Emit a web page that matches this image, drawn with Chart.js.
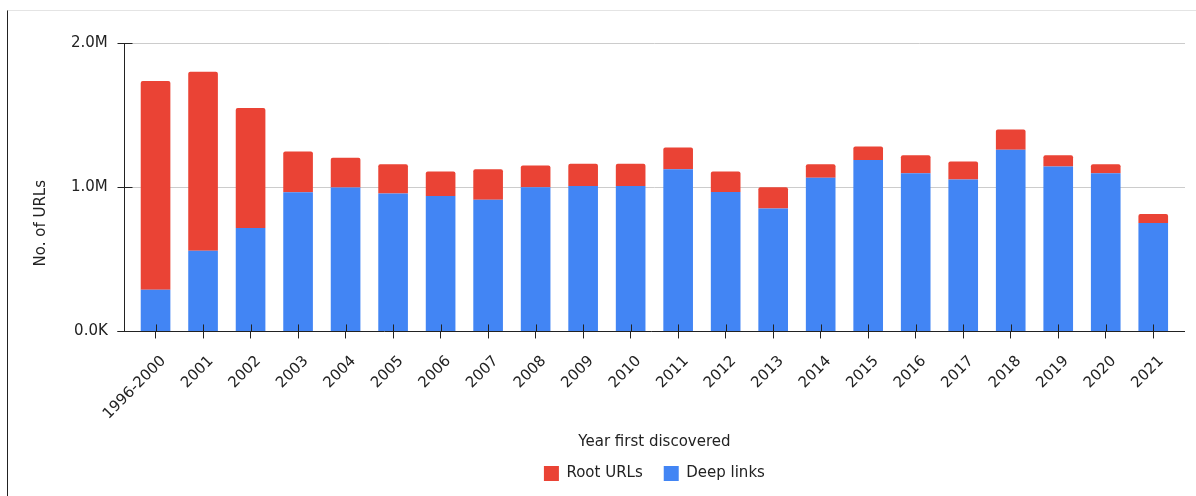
<!DOCTYPE html>
<html>
<head>
<meta charset="utf-8">
<script src="https://cdn.jsdelivr.net/npm/chart.js@4.4.1/dist/chart.umd.min.js"></script>
<style>
  html, body { margin: 0; padding: 0; background: #fff; }
  #wrap { position: relative; width: 1196px; height: 496px; }
  #frame { position: absolute; left: 7px; top: 10px; right: 0; bottom: 0;
           border-left: 1px solid #222; border-top: 1px solid #e4e4e4; pointer-events: none; }
</style>
</head>
<body>
<div id="wrap">
  <canvas id="urlsChart" width="1196" height="496"></canvas>
  <div id="frame"></div>
</div>
<script>
const years = ["1996-2000", "2001", "2002", "2003", "2004", "2005", "2006", "2007", "2008", "2009", "2010",
  "2011", "2012", "2013", "2014", "2015", "2016", "2017", "2018", "2019", "2020", "2021"];
const deepLinks = [290000, 560000, 717000, 965000, 998000, 956000, 940000, 914000, 1000000, 1009000, 1009000,
  1125000, 967000, 852000, 1065000, 1188000, 1097000, 1053000, 1259000, 1144000, 1097000, 752000];
const rootUrls = [1446000, 1240000, 832000, 283000, 206000, 204000, 169000, 211000, 150000, 153000, 153000,
  151000, 142000, 148000, 95000, 94000, 125000, 125000, 141000, 78000, 63000, 63000];
const yTicks = [0, 1000000, 2000000];
const yTickLabels = ["0.0K", "1.0M", "2.0M"];

const FONT = "'DejaVu Sans', Verdana, sans-serif";
Chart.defaults.font.family = FONT;
Chart.defaults.font.size = 15;
Chart.defaults.color = "#222";

const AXIS_PAD = 8; // axis lines run a little past the outer bars

// axis lines, gridlines and crossing tick marks, plus the y title
const axisExtras = {
  id: "axisExtras",
  beforeDatasetsDraw(chart) {
    const ctx = chart.ctx, a = chart.chartArea, y = chart.scales.y;
    ctx.save();
    ctx.strokeStyle = "#cccccc";
    ctx.lineWidth = 1;
    ctx.beginPath();
    yTicks.slice(1).forEach(v => {
      const py = Math.round(y.getPixelForValue(v)) + 0.5;
      ctx.moveTo(a.left - AXIS_PAD, py);
      ctx.lineTo(a.right + AXIS_PAD, py);
    });
    ctx.stroke();
    ctx.restore();
  },
  afterDatasetsDraw(chart) {
    const ctx = chart.ctx, a = chart.chartArea, x = chart.scales.x, y = chart.scales.y;
    const ax = Math.round(a.left - AXIS_PAD) + 0.5;
    const ay = Math.round(a.bottom) + 0.5;
    ctx.save();
    ctx.strokeStyle = "#222";
    ctx.lineWidth = 1;
    ctx.beginPath();
    // axis lines
    ctx.moveTo(ax, Math.round(a.top));
    ctx.lineTo(ax, ay);
    ctx.moveTo(ax - 7, ay);
    ctx.lineTo(a.right + AXIS_PAD, ay);
    // x tick marks, upper half
    x.ticks.forEach((t, i) => {
      const px = Math.round(x.getPixelForTick(i)) + 0.5;
      ctx.moveTo(px, a.bottom - 7);
      ctx.lineTo(px, a.bottom);
    });
    // y tick marks
    yTicks.forEach(v => {
      const py = Math.round(y.getPixelForValue(v)) + 0.5;
      ctx.moveTo(ax - 7, py);
      ctx.lineTo(ax + 8, py);
    });
    ctx.stroke();
    ctx.restore();
  },
  afterDraw(chart) {
    const ctx = chart.ctx, area = chart.chartArea;
    ctx.save();
    ctx.font = "15px " + FONT;
    ctx.fillStyle = "#222";
    ctx.textAlign = "center";
    ctx.textBaseline = "middle";
    ctx.translate(41, (area.top + area.bottom) / 2 + 36);
    ctx.rotate(-Math.PI / 2);
    ctx.fillText("No. of URLs", 0, 0);
    ctx.restore();
  }
};

new Chart(document.getElementById("urlsChart"), {
  type: "bar",
  data: {
    labels: years,
    datasets: [
      {
        label: "Deep links",
        data: deepLinks,
        backgroundColor: "#4285f4",
        barPercentage: 0.8,
        categoryPercentage: 0.78
      },
      {
        label: "Root URLs",
        data: rootUrls,
        backgroundColor: "#ea4335",
        borderRadius: { topLeft: 2, topRight: 2, bottomLeft: 0, bottomRight: 0 },
        borderSkipped: false,
        barPercentage: 0.8,
        categoryPercentage: 0.78
      }
    ]
  },
  plugins: [axisExtras],
  options: {
    responsive: false,
    animation: false,
    layout: { padding: { left: 47, top: 43, right: 19, bottom: 5 } },
    plugins: {
      tooltip: { enabled: false },
      legend: {
        position: "bottom",
        fullSize: false,
        reverse: true,
        labels: { boxWidth: 15, boxHeight: 15, padding: 21, font: { size: 15 } }
      }
    },
    scales: {
      x: {
        stacked: true,
        grid: { offset: false, drawOnChartArea: false, tickLength: 7, tickColor: "#222" },
        border: { display: false },
        ticks: { maxRotation: 45, minRotation: 45, padding: 14, labelOffset: 8, autoSkip: false },
        title: { display: true, text: "Year first discovered", padding: { top: -4, bottom: -6 } }
      },
      y: {
        stacked: true,
        min: 0,
        max: 2000000,
        afterBuildTicks: axis => { axis.ticks = yTicks.map(v => ({ value: v })); },
        grid: { drawOnChartArea: false, drawTicks: false },
        border: { display: false },
        ticks: {
          padding: 24,
          callback: (v) => yTickLabels[yTicks.indexOf(v)]
        }
      }
    }
  }
});
</script>
</body>
</html>
